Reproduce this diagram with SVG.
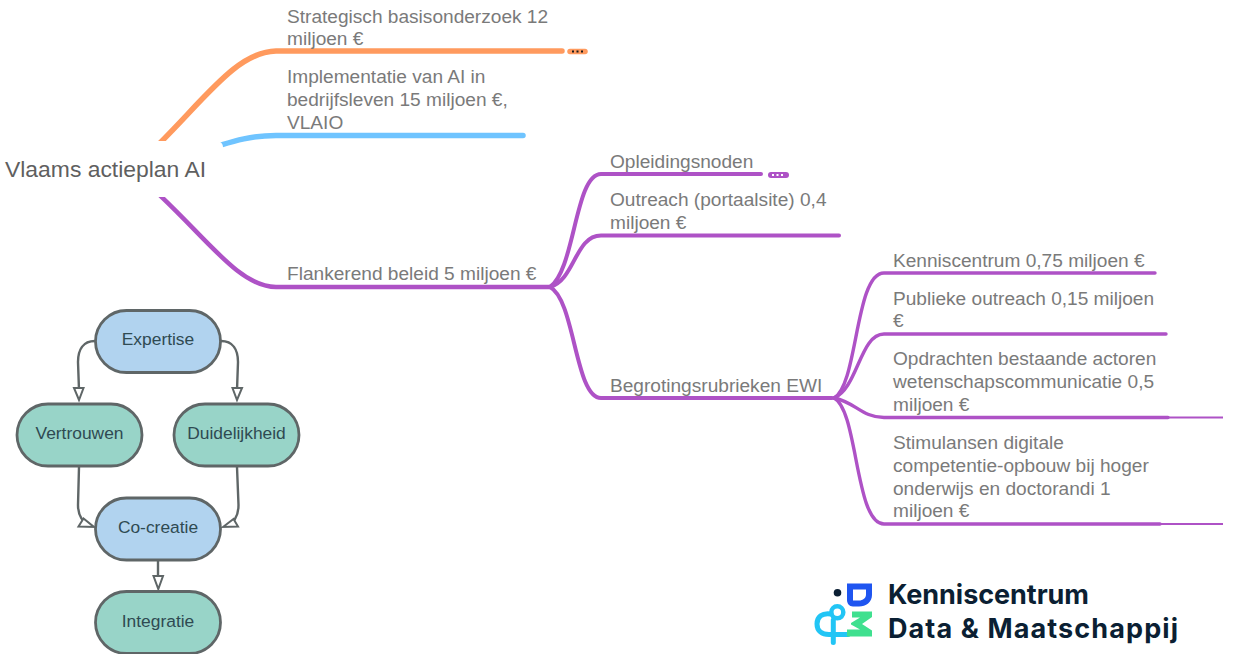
<svg xmlns="http://www.w3.org/2000/svg" width="1233" height="654" viewBox="0 0 1233 654">
<style>
.t{font-family:"Liberation Sans",Arial,sans-serif;font-size:19.1px;fill:#7a7a7a}
.b{fill:none;stroke-linecap:round}
.p{stroke:#ae52c6;stroke-width:4}
.p2{stroke:#ae52c6;stroke-width:3.400}
.n{stroke:#5f6667;stroke-width:2.800}
.nt{font-family:"Liberation Sans",Arial,sans-serif;font-size:17.400px;fill:#2f4a52;text-anchor:middle}
.c{fill:none;stroke:#5f6667;stroke-width:2.400}
.a{fill:#fff;stroke:#5f6667;stroke-width:2}
.l{font-family:"Inter","Liberation Sans",sans-serif;font-weight:700;font-size:27px;fill:#0b1f33}
</style>
<rect width="1233" height="654" fill="#fff"/>
<g id="connectors">
<path class="b" d="M135 167C198 110 232 52 276 51H562" stroke="#ff9a5e" stroke-width="5.500"/>
<path d="M570 51.500H585" stroke="#ff9a5e" stroke-width="5.500" stroke-linecap="round"/>
<path d="M572 51.500h11" stroke="#1a1a1a" stroke-width="2" stroke-dasharray="2 2.500"/>
<path class="b" d="M190 155C240 138 255 135.500 276 135.500H523" stroke="#6fc4ff" stroke-width="5.500"/>
<path class="b" d="M135 173C198 225 235 287 276 287H550" stroke="#ae52c6" stroke-width="4.500"/>
<path class="b p" d="M550 287C575 270 575 174 601 174H761"/>
<path d="M771 175H786" stroke="#ae52c6" stroke-width="6" stroke-linecap="round"/>
<path d="M772 175h12" stroke="#fff" stroke-width="2" stroke-dasharray="2 2.500"/>
<path class="b p" d="M550 287C575 280 575 235.500 601 235.500H839"/>
<path class="b p" d="M550 287C575 300 575 398 601 398H832"/>
<path class="b p2" d="M834 398C858 385 855 273 884 273H1155"/>
<path class="b p2" d="M834 398C858 388 860 334 884 334H1166"/>
<path class="b p2" d="M834 398C855 402 862 417.500 884 417.500H1168"/>
<path d="M1168 417.500H1223" stroke="#ae52c6" stroke-width="2"/>
<path class="b p2" d="M834 398C858 410 855 524 884 524H1160"/>
<path d="M1160 524H1223" stroke="#ae52c6" stroke-width="2"/>
<path class="c" d="M95 341C83 341 78 350 78 362L79 390"/>
<path class="a" d="M74 388H83.500L79 400Z"/>
<path class="c" d="M221 341C233 341 238 350 238 362L237 390"/>
<path class="a" d="M232.500 388H242L237 400Z"/>
<path class="c" d="M79 467L78 505C78 514 82 522 90 526"/>
<path class="a" d="M78.500 526.500L83.500 518.500L94 527Z"/>
<path class="c" d="M237 467L238.500 505C238.500 514 235 522 227 526"/>
<path class="a" d="M223 527L233.500 519L238 526.500Z"/>
<path class="c" d="M158 561V578"/>
<path class="a" d="M153.500 576H163L158.300 589Z"/>
</g>
<g id="n-root"><rect x="-8" y="141" width="231" height="56" rx="6" fill="#fff"/><text class="t" x="5" y="177" style="font-size:22.900px;fill:#5f5f5f">Vlaams actieplan AI</text></g>
<g id="n-strategisch"><text class="t" x="287" y="23">Strategisch basisonderzoek 12</text><text class="t" x="287" y="45">miljoen €</text></g>
<g id="n-implementatie"><text class="t" x="287" y="83">Implementatie van AI in</text><text class="t" x="287" y="106">bedrijfsleven 15 miljoen €,</text><text class="t" x="287" y="129">VLAIO</text></g>
<g id="n-flankerend"><text class="t" x="287" y="280">Flankerend beleid 5 miljoen €</text></g>
<g id="n-opleidingsnoden"><text class="t" x="610" y="168">Opleidingsnoden</text></g>
<g id="n-outreach"><text class="t" x="610" y="206">Outreach (portaalsite) 0,4</text><text class="t" x="610" y="229">miljoen €</text></g>
<g id="n-begroting"><text class="t" x="610" y="392">Begrotingsrubrieken EWI</text></g>
<g id="n-kenniscentrum"><text class="t" x="893" y="267">Kenniscentrum 0,75 miljoen €</text></g>
<g id="n-publieke"><text class="t" x="893" y="305">Publieke outreach 0,15 miljoen</text><text class="t" x="893" y="327">€</text></g>
<g id="n-opdrachten"><text class="t" x="893" y="365">Opdrachten bestaande actoren</text><text class="t" x="893" y="388">wetenschapscommunicatie 0,5</text><text class="t" x="893" y="411">miljoen €</text></g>
<g id="n-stimulansen"><text class="t" x="893" y="449">Stimulansen digitale</text><text class="t" x="893" y="472">competentie-opbouw bij hoger</text><text class="t" x="893" y="495">onderwijs en doctorandi 1</text><text class="t" x="893" y="517">miljoen €</text></g>
<g id="n-expertise"><rect class="n" x="95.500" y="310.500" width="125" height="62" rx="31" fill="#b1d3ef"/><text class="nt" x="158" y="345">Expertise</text></g>
<g id="n-vertrouwen"><rect class="n" x="17" y="404" width="125" height="62" rx="31" fill="#98d4c8"/><text class="nt" x="79.500" y="439">Vertrouwen</text></g>
<g id="n-duidelijkheid"><rect class="n" x="174" y="404" width="125" height="62" rx="31" fill="#98d4c8"/><text class="nt" x="236.500" y="439">Duidelijkheid</text></g>
<g id="n-cocreatie"><rect class="n" x="95.500" y="498" width="125" height="62" rx="31" fill="#b1d3ef"/><text class="nt" x="158" y="533">Co-creatie</text></g>
<g id="n-integratie"><rect class="n" x="95.500" y="591.500" width="125" height="62" rx="31" fill="#98d4c8"/><text class="nt" x="158" y="626.500">Integratie</text></g>
<g id="logo">
<circle cx="837.500" cy="592.800" r="3.800" fill="#0b1f33"/>
<path fill-rule="evenodd" d="M847 583.500H872V595C872 602 866 606.500 859 606.500H853C849 606.500 847 603 847 600ZM853 589.500V600.500H859C863 600.500 866 598 866 594.500V589.500Z" fill="#1f55f0"/>
<circle cx="837.300" cy="612.300" r="6" fill="none" stroke="#22c5f5" stroke-width="4.500"/>
<path d="M831 614C822 612.500 817 617 817 624C817 631 822 634.500 829 634.500H848M833.300 620V642.500" fill="none" stroke="#22c5f5" stroke-width="5" stroke-linecap="round"/>
<path d="M852 611.500H872V617L862 624L872 630.500V636.500H847V629.500H860L851 624.500V623L860 617.500H852Z" fill="#3fe08f"/>
<text class="l" x="888" y="604" textLength="201" lengthAdjust="spacing">Kenniscentrum</text>
<text class="l" x="888" y="638" textLength="290" lengthAdjust="spacing">Data &amp; Maatschappij</text>
</g>
</svg>
